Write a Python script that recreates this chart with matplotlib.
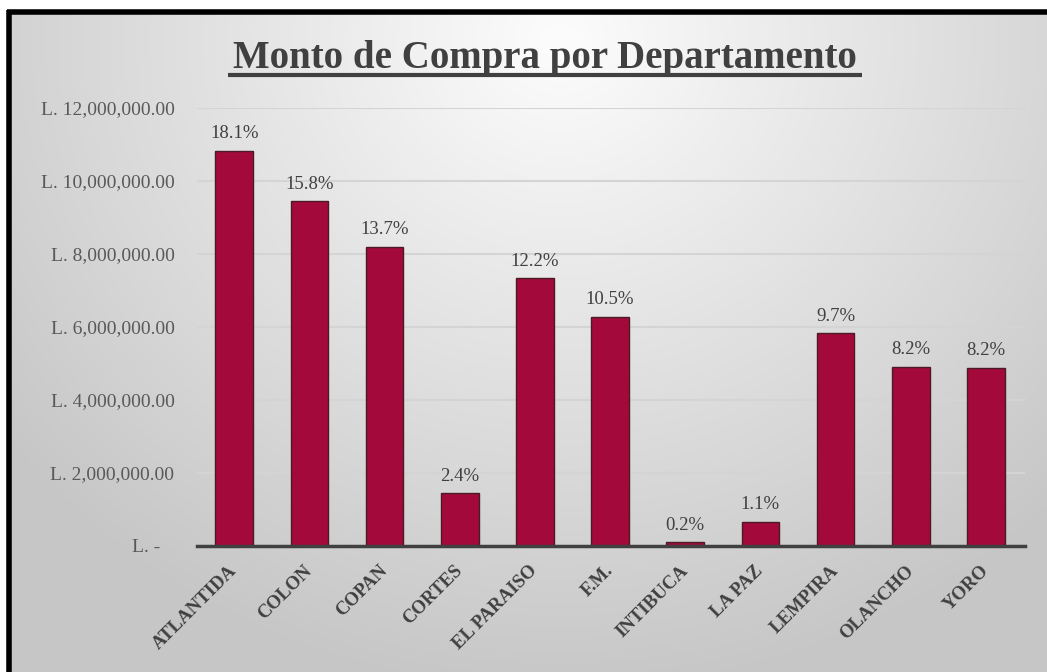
import matplotlib.pyplot as plt
import numpy as np
from matplotlib.ticker import FuncFormatter

# Datos: monto de compra por departamento (millones de lempiras)
departamentos = ['ATLANTIDA', 'COLON', 'COPAN', 'CORTES', 'EL PARAISO', 'F.M.',
                 'INTIBUCA', 'LA PAZ', 'LEMPIRA', 'OLANCHO', 'YORO']
montos_mill = [10.83, 9.45, 8.20, 1.44, 7.33, 6.28, 0.11, 0.67, 5.83, 4.91, 4.89]
y_ticks = [0, 2e6, 4e6, 6e6, 8e6, 10e6, 12e6]

montos = np.array(montos_mill) * 1e6
porcentajes = montos / montos.sum() * 100

W, H = 1047, 672
fig = plt.figure(figsize=(W / 100, H / 100), dpi=100)
fig.patch.set_facecolor('white')

# fondo degradado (radial, claro arriba al centro)
bg = fig.add_axes([0, 0, 1, 1], zorder=0)
bg.set_xlim(0, W)
bg.set_ylim(H, 0)
bg.axis('off')
gx, gy = np.meshgrid(np.linspace(0, W, 400), np.linspace(0, H, 300))
r = np.sqrt(((gx - 560) / 700) ** 2 + ((gy - 40) / 650) ** 2)
gris = np.clip(0.99 - 0.21 * r, 0.78, 0.99)
x0, y0 = 7, 10
mask = (gx < x0) | (gy < y0)
img = np.dstack([gris, gris, gris])
img[mask] = 1.0
bg.imshow(img, extent=[0, W, H, 0], aspect='auto', interpolation='bilinear')
bg.plot([x0 + 2, x0 + 2], [y0, H], color='black', lw=4, solid_capstyle='butt')
bg.plot([x0, W], [y0 + 1.5, y0 + 1.5], color='black', lw=4, solid_capstyle='butt')

ax = fig.add_axes([196.7 / W, 1 - 546 / H, (1025 - 196.7) / W, (546 - 108) / H], zorder=1)
ax.patch.set_alpha(0)

x = np.arange(len(departamentos))
bars = ax.bar(x, montos, width=0.5, color='#A30A3B', edgecolor='#4a1a26',
              linewidth=1.0, zorder=3)

for xi, v, p in zip(x, montos, porcentajes):
    ax.annotate(f'{p:.1f}%', (xi, v), xytext=(0, 6), textcoords='offset points',
                ha='center', va='bottom', fontsize=13.5, color='#404040',
                family='Liberation Serif')

ax.set_xlim(-0.5, 10.52)
ax.set_ylim(0, 12e6)
ax.set_yticks(y_ticks)


def fmt(v, pos):
    if v == 0:
        return 'L. -   '
    return f'L. {v:,.2f}'


ax.yaxis.set_major_formatter(FuncFormatter(fmt))
ax.grid(axis='y', color='#d4d4d4', lw=1.5, zorder=0)
ax.set_axisbelow(True)
for s in ['top', 'right', 'left']:
    ax.spines[s].set_visible(False)
ax.spines['bottom'].set_color('#404040')
ax.spines['bottom'].set_linewidth(2.5)
ax.spines['bottom'].set_zorder(4)

ax.tick_params(axis='y', length=0, pad=16, labelsize=14, labelcolor='#595959')
ax.tick_params(axis='x', length=0, pad=16)
ax.set_xticks(x)
ax.set_xticklabels(departamentos, rotation=45, ha='right', va='center',
                   rotation_mode='anchor', fontsize=13.5, fontweight='bold',
                   color='#404040', family='Liberation Serif')
for lbl in ax.get_yticklabels():
    lbl.set_family('Liberation Serif')

fig.text(545 / W, 1 - 68 / H, 'Monto de Compra por Departamento', ha='center',
         va='baseline', fontsize=28, fontweight='bold', color='#404040',
         family='Liberation Serif', zorder=5)
# subrayado del titulo
bg.plot([228, 862], [75, 75], color='#404040', lw=3, solid_capstyle='butt')

fig.savefig('out.png', dpi=100)
